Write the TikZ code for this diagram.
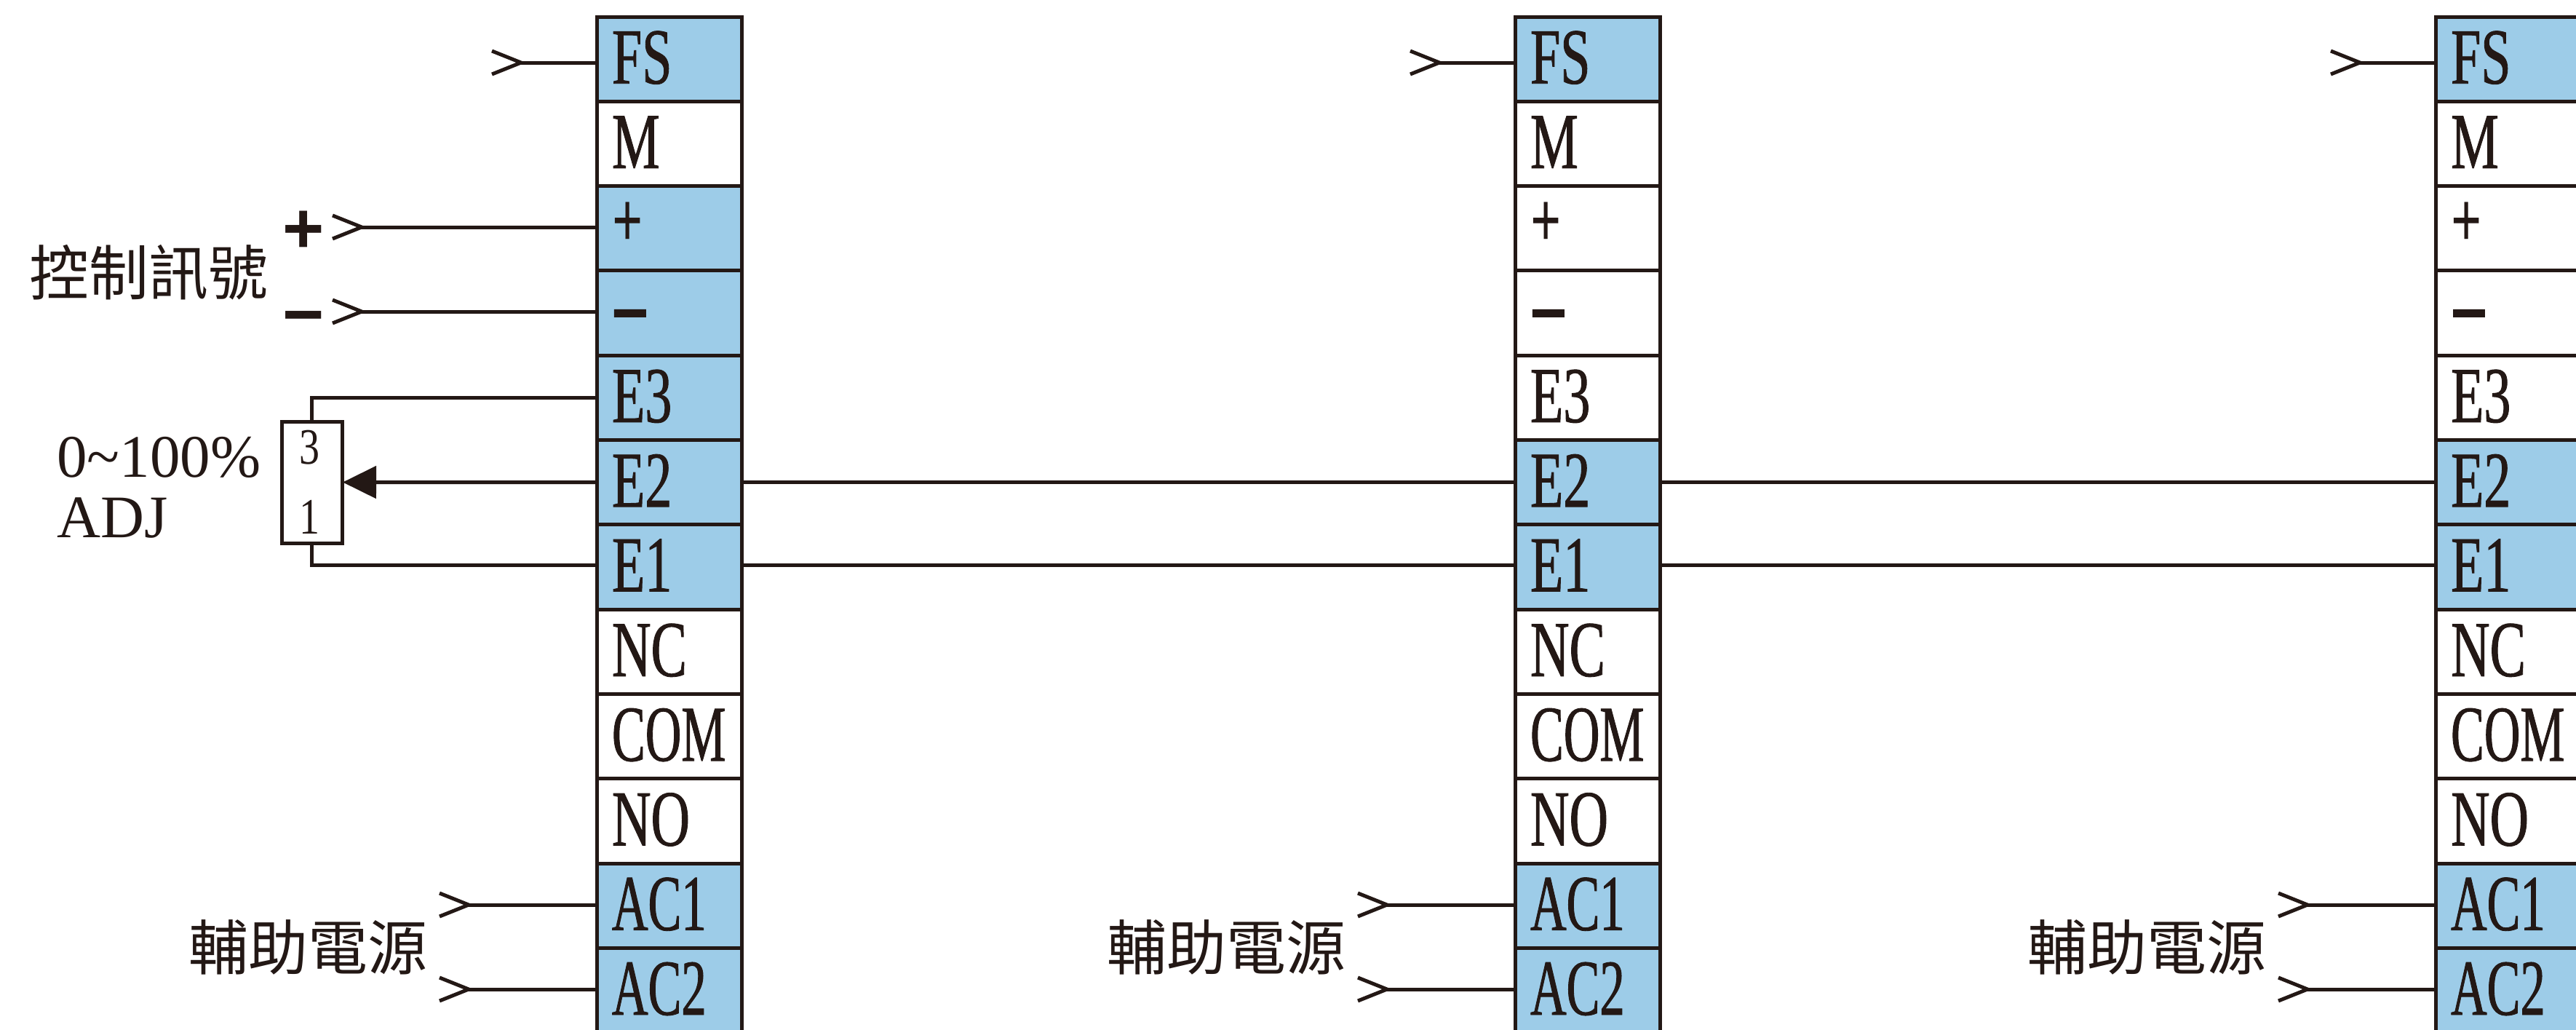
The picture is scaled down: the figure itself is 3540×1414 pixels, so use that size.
\documentclass[tikz,border=0pt]{standalone}
\usepackage{fontspec}
\usetikzlibrary{arrows.meta,calc}
\setmainfont{Liberation Serif}
\newfontfamily\cellfont[FakeStretch=0.68,FakeBold=0.8]{Liberation Serif}
\newfontfamily\tightfont[FakeStretch=0.63,FakeBold=0.8]{Liberation Serif}
\newfontfamily\cellbold[FakeStretch=0.68]{Liberation Serif Bold}
\newfontfamily\minusfont[FakeStretch=0.8,FakeBold=3]{Liberation Serif Bold}
\newfontfamily\digitfont[FakeStretch=0.8]{Liberation Serif}
\newfontfamily\signfont{Liberation Sans Bold}
\newfontfamily\cjkfont{Noto Sans CJK TC}
\definecolor{ink}{HTML}{231815}
\definecolor{onc}{HTML}{9DCCE8}
\definecolor{offc}{HTML}{FFFFFF}
\newcommand\celltext[1]{\makebox[199pt][l]{\hspace{21pt}\rule[-5pt]{0pt}{77pt}#1}}
\newcommand\chevron[1]{\draw[wire] ($(#1)+(-40,-16)$) -- (#1) -- ($(#1)+(-40,16)$);}
\tikzset{
  wire/.style={draw=ink,line width=5pt},
  cellbox/.style={draw=ink,line width=5pt,rectangle,inner sep=0pt,outer sep=0pt,minimum width=199pt,minimum height=116.3pt,text=ink,font=\cellfont\fontsize{109}{109}\selectfont},
  cjklabel/.style={inner sep=0pt,text=ink,font=\cjkfont\fontsize{82}{82}\selectfont},
  adjlabel/.style={inner sep=0pt,anchor=base west,text=ink,font=\fontsize{83}{83}\selectfont},
  signlabel/.style={inner sep=0pt,anchor=base,text=ink,font=\signfont\fontsize{98}{98}\selectfont},
  digit/.style={inner sep=0pt,anchor=base,text=ink,font=\digitfont\fontsize{70}{70}\selectfont},
}
\begin{document}
\begin{tikzpicture}[x=1pt,y=-1pt]
\useasboundingbox (0,0) rectangle (3540,1414);
\clip (0,0) rectangle (3540,1414);
\foreach \c/\x/\k in {a/820/1,b/2082/2,c/3347/3}{
  \foreach \r/\t/\fa/\fb in {1/FS/onc/onc,2/M/offc/offc,3/{\cellbold\raisebox{8pt}{+}}/onc/offc,4/{\minusfont\raisebox{-3pt}{−}}/onc/offc,5/E3/onc/offc,6/E2/onc/onc,7/E1/onc/onc,8/NC/offc/offc,9/{\tightfont COM}/offc/offc,10/NO/offc/offc,11/{\tightfont AC1}/onc/onc,12/{\tightfont AC2}/onc/onc}{
    \ifnum\k=1 \let\fc\fa\else\let\fc\fb\fi
    \node[cellbox,fill=\fc] (\c\r) at ({\x+99.5},{23+116.3*(\r-0.5)}) {\celltext{\t}};
  }
  % free ends of the input wires
  \coordinate (\c fs) at ({\x-104},86);
  \coordinate (\c acone) at ({\x-176},1243);
  \coordinate (\c actwo) at ({\x-176},1359);
  \draw[wire] (\c fs) -- (\c fs -| \c1.west);
  \draw[wire] (\c acone) -- (\c acone -| \c11.west);
  \draw[wire] (\c actwo) -- (\c actwo -| \c12.west);
  \chevron{\c fs}
  \chevron{\c acone}
  \chevron{\c actwo}
  \node[cjklabel] (aux\c) at ({\x-397},1301) {輔助電源};
}
% control signal
\coordinate (plusend) at (497,312);
\coordinate (minusend) at (497,428);
\draw[wire] (plusend) -- (plusend -| a3.west);
\draw[wire] (minusend) -- (minusend -| a4.west);
\chevron{plusend}
\chevron{minusend}
\node[signlabel] (plussign) at (417,347) {+};
\node[signlabel] (minussign) at (417,465) {−};
\node[cjklabel] (ctrl) at (204,374) {控制訊號};
% potentiometer
\node[rectangle,draw=ink,line width=5pt,fill=white,minimum width=83pt,minimum height=167pt,inner sep=0pt,outer sep=0pt] (pot) at (428.5,662.5) {};
\node[digit] (three) at (425,637) {3};
\node[digit] (one) at (425,733) {1};
\node[adjlabel] (pct) at (78,655) {0\char`\~100\%};
\node[adjlabel] (adj) at (78,738) {ADJ};
\draw[wire] (a5.west) -| (pot.north);
\draw[wire] ([yshift=2pt]a7.west) -| (pot.south);
\draw[wire,-{Triangle[length=46pt,width=44pt]}] (a6.west) -- ([xshift=1pt]pot.east);
% links between the units
\draw[wire] (a6.east) -- (b6.west);
\draw[wire] ([yshift=2pt]a7.east) -- ([yshift=2pt]b7.west);
\draw[wire] (b6.east) -- (c6.west);
\draw[wire] ([yshift=2pt]b7.east) -- ([yshift=2pt]c7.west);
\end{tikzpicture}
\end{document}
